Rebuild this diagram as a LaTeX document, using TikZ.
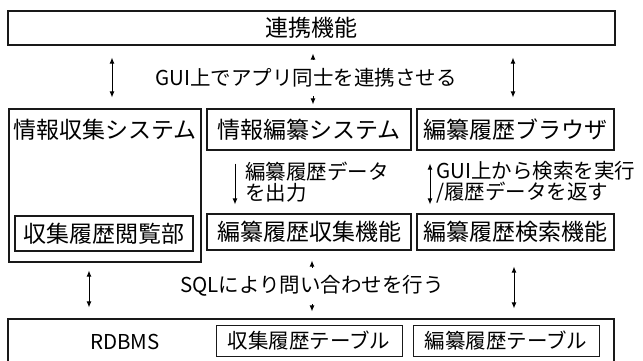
\documentclass[tikz,border=0pt]{standalone}
\usepackage{fontspec}
\setmainfont{Noto Sans CJK JP}
\usetikzlibrary{arrows.meta}
\begin{document}
\begin{tikzpicture}[x=1pt,y=-1pt,
  frame/.style={draw=black!90, line width=1.2pt, inner sep=0pt},
  tbl/.style={draw=black!90, line width=0.9pt, inner sep=0pt},
  big/.style={font=\fontsize{23}{26}\selectfont},
  lbl/.style={font=\fontsize{20.5}{21}\selectfont, inner sep=0pt},
  cover/.style={lbl, fill=white, minimum height=36pt},
  arr/.style={line width=0.9pt, -{Latex[length=6pt,width=5pt]}},
  darr/.style={line width=0.9pt, {Latex[length=6pt,width=5pt]}-{Latex[length=6pt,width=5pt]}}]
\useasboundingbox (0,0) rectangle (643,360);
% top
\node[frame,big,minimum width=607pt,minimum height=34pt] (link) at (311.5,28) {連携機能};
% row 2
\node[frame,minimum width=192pt,minimum height=153pt] (sys1) at (105,185.5) {};
\node[big,inner sep=0pt] (sys1t) at (105,129.5) {情報収集システム};
\node[frame,big,minimum width=204pt,minimum height=41pt] (sys2) at (309,129.5) {情報編纂システム};
\node[frame,big,minimum width=197pt,minimum height=41pt] (brw) at (515.5,129.5) {編纂履歴ブラウザ};
% row 3
\node[frame,big,minimum width=178pt,minimum height=35pt] (view) at (104,233.5) {収集履歴閲覧部};
\node[frame,big,minimum width=204pt,minimum height=36pt] (coll) at (309,232) {編纂履歴収集機能};
\node[frame,big,minimum width=197pt,minimum height=36pt] (srch) at (515.5,232) {編纂履歴検索機能};
% bottom
\node[frame,minimum width=606pt,minimum height=46pt] (db) at (311,342) {};
\node[lbl] (dbt) at (125,342) {RDBMS};
\node[tbl,lbl,minimum width=186pt,minimum height=31pt] (t1) at (309,340.5) {収集履歴テーブル};
\node[tbl,lbl,minimum width=186pt,minimum height=31pt] (t2) at (506,340.5) {編纂履歴テーブル};
% row 1 connectors
\draw[darr,shorten <=12pt,shorten >=11pt] (link.south -| 112,0) -- (sys1.north -| 112,0);
\draw[darr,shorten <=12pt,shorten >=11pt] (link.south -| 513,0) -- (brw.north -| 513,0);
\draw[darr,shorten <=8pt,shorten >=4pt] (link.south -| 313,0) -- (sys2.north -| 313,0);
\node[cover] (gui) at (306,78) {GUI上でアプリ同士を連携させる};
% row 2 connectors
\draw[arr,shorten <=13pt,shorten >=9pt] (sys2.south -| 235,0) -- (coll.north -| 235,0);
\node[lbl,anchor=west,align=left] (out) at (245,182.5) {編纂履歴データ\\を出力};
\draw[darr,shorten <=13pt,shorten >=9pt] (brw.south -| 430,0) -- (srch.north -| 430,0);
\node[lbl,anchor=west,align=left] (ret) at (436,182.5) {GUI上から検索を実行\\/履歴データを返す};
% row 4 connectors
\draw[darr,shorten <=8pt,shorten >=11pt] (sys1.south -| 89,0) -- (db.north -| 89,0);
\draw[darr,shorten <=16pt,shorten >=10pt] (srch.south -| 514,0) -- (db.north -| 514,0);
\draw[darr,shorten <=10pt,shorten >=7pt] (coll.south -| 312,0) -- (db.north -| 312,0);
\node[cover] (sql) at (312,286) {SQLにより問い合わせを行う};
\end{tikzpicture}
\end{document}
